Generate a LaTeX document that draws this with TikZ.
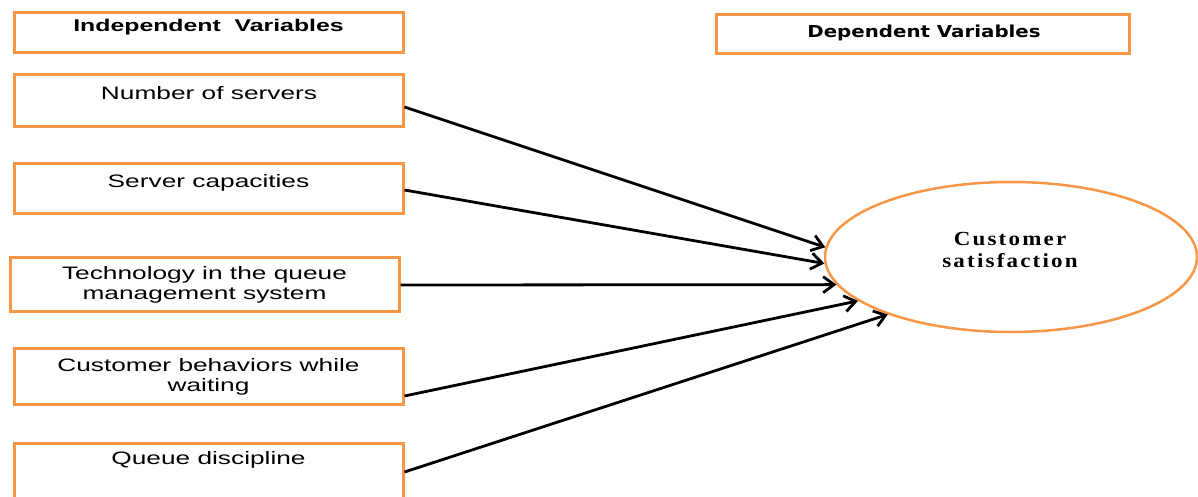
\documentclass[tikz,border=0pt]{standalone}
\usepackage{fontspec}
\setmainfont{Liberation Sans}[FakeStretch=1.46]
\newfontfamily\depfont{DejaVu Sans}[FakeStretch=1.2]
\newfontfamily\csfont{Liberation Serif}[FakeStretch=1.15,LetterSpace=11]
\usetikzlibrary{shapes.geometric,arrows.meta}
\definecolor{boxorange}{RGB}{247,150,70}
\tikzset{
  varbox/.style={draw=boxorange,line width=3pt,rectangle,inner sep=0pt,fill=white},
  txt/.style={inner sep=0pt,anchor=base,font=\fontsize{18}{20}\selectfont,align=center},
  hdtxt/.style={inner sep=0pt,anchor=base,font=\fontsize{17}{20}\selectfont\bfseries},
  deptxt/.style={inner sep=0pt,anchor=base,font=\depfont\fontsize{16.5}{20}\selectfont\bfseries},
  cstxt/.style={inner sep=0pt,anchor=base,font=\csfont\fontsize{20}{22}\selectfont\bfseries,align=center},
  link/.style={line width=2.8pt,-{Straight Barb[length=11pt,width=16pt]}},
}
\begin{document}
\begin{tikzpicture}[x=1pt,y=-1pt]
\useasboundingbox (0,0) rectangle (1198,497);
% boxes
\node[varbox,minimum width=389pt,minimum height=40pt] (bI) at (208.5,33) {};
\node[varbox,minimum width=389pt,minimum height=52pt] (b1) at (208.5,101) {};
\node[varbox,minimum width=389pt,minimum height=49pt] (b2) at (208.5,188.5) {};
\node[varbox,minimum width=389pt,minimum height=54pt] (b3) at (204.5,284) {};
\node[varbox,minimum width=389pt,minimum height=56pt] (b4) at (208.5,376) {};
\node[varbox,minimum width=389pt,minimum height=60pt] (b5) at (208.5,473) {};
\node[varbox,minimum width=413pt,minimum height=39pt] (bD) at (922.5,34.5) {};
% texts
\node[hdtxt] (tI) at (208.5,32) {Independent\ \ Variables};
\node[txt] (t1) at (209,100) {Number of servers};
\node[txt] (t2) at (208.5,187) {Server capacities};
\node[txt] (t3) at (204.5,299) {Technology in the queue\\management system};
\node[txt] (t4) at (208.5,391) {Customer behaviors while\\waiting};
\node[txt] (t5) at (208.5,464) {Queue discipline};
\node[deptxt] (tD) at (924,38) {Dependent Variables};
% ellipse
\node[draw=boxorange,line width=2.5pt,ellipse,minimum width=372pt,minimum height=150pt,inner sep=0pt] (cs) at (1011,257) {};
\node[cstxt] (tcs) at (1010,267) {Customer\\satisfaction};
% arrows
\draw[link] ([yshift=-6pt]b1.east) -- (cs.177);
\draw[link] ([yshift=-1.5pt]b2.east) -- (cs.182);
\draw[link] ([yshift=-1pt]b3.east) -- (cs.189);
\draw[link] ([yshift=-20pt]b4.east) -- (cs.196);
\draw[link] ([yshift=1pt]b5.east) -- (cs.205);
\end{tikzpicture}
\end{document}
